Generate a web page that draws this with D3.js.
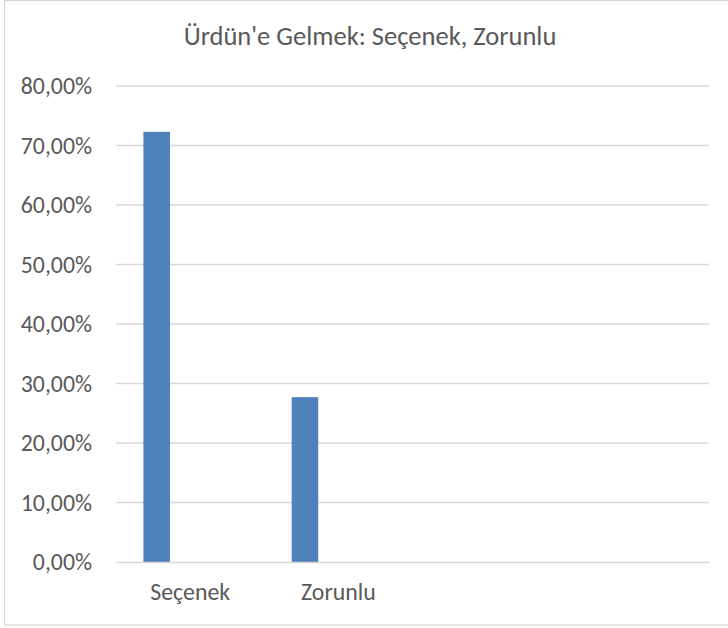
<!DOCTYPE html>
<html>
<head>
<meta charset="utf-8">
<script src="https://cdn.jsdelivr.net/npm/d3@7"></script>
<style>
  body { margin: 0; background: #fff; }
  text { font-family: Calibri, Carlito, "Open Sans", sans-serif; fill: #595959; }
</style>
</head>
<body>
<div id="chart"></div>
<script>
// chart data
var title = "Ürdün'e Gelmek: Seçenek, Zorunlu";
var categories = ["Seçenek", "Zorunlu", "", " "];   // two empty slots, as in the source sheet
var values = [0.723, 0.277];
var yTicks = [0, 0.1, 0.2, 0.3, 0.4, 0.5, 0.6, 0.7, 0.8];

var width = 728,
    height = 628,
    margin = {top: 86, right: 19, bottom: 66, left: 116};

var svg = d3.select("#chart")
  .append("svg")
  .attr("width", width)
  .attr("height", height);

// outer chart border (right edge is cropped off in the source)
svg.append("rect")
  .attr("x", 4.5).attr("y", 0.5)
  .attr("width", 730).attr("height", 624.5)
  .attr("fill", "none")
  .attr("stroke", "#d9d9d9")
  .attr("stroke-width", 1.3);

var x = d3.scaleBand()
  .domain(categories)
  .range([margin.left, width - margin.right])
  .paddingInner(0).paddingOuter(0);

var y = d3.scaleLinear()
  .domain([0, 0.8])
  .range([height - margin.bottom, margin.top]);

var fmt = function(v) { return d3.format(".2f")(v * 100).replace(".", ",") + "%"; };

// gridlines
svg.append("g")
  .selectAll("line")
  .data(yTicks.filter(function(d) { return d > 0; }))
  .enter().append("line")
  .attr("x1", margin.left).attr("x2", width - margin.right)
  .attr("y1", function(d) { return y(d); })
  .attr("y2", function(d) { return y(d); })
  .attr("stroke", "#d9d9d9")
  .attr("stroke-width", 1.3);

// y axis labels
var yAxis = d3.axisLeft(y).tickValues(yTicks).tickFormat(fmt).tickSize(0).tickPadding(24);
var gy = svg.append("g")
  .attr("transform", "translate(" + margin.left + ",0)")
  .call(yAxis);
gy.select(".domain").remove();
gy.selectAll("text").style("font-size", "23.8px").attr("fill", "#595959");

// bars (single series sits left in each category slot)
var bw = x.bandwidth();
svg.append("g")
  .selectAll("rect")
  .data(values)
  .enter().append("rect")
  .attr("x", function(d, i) { return x(categories[i]) + bw * 0.185; })
  .attr("width", bw * 0.179)
  .attr("y", function(d) { return y(d); })
  .attr("height", function(d) { return y(0) - y(d); })
  .attr("fill", "#4f81bd");

// x axis
var xAxis = d3.axisBottom(x).tickSize(0).tickPadding(21);
var gx = svg.append("g")
  .attr("transform", "translate(0," + y(0) + ")")
  .call(xAxis);
gx.select(".domain").attr("stroke", "#d9d9d9").attr("stroke-width", 1.3);
gx.selectAll("text").style("font-size", "23.8px").attr("fill", "#595959");

// title
svg.append("text")
  .attr("x", 370)
  .attr("y", 45)
  .attr("text-anchor", "middle")
  .style("font-size", "26.5px")
  .text(title);
</script>
</body>
</html>
